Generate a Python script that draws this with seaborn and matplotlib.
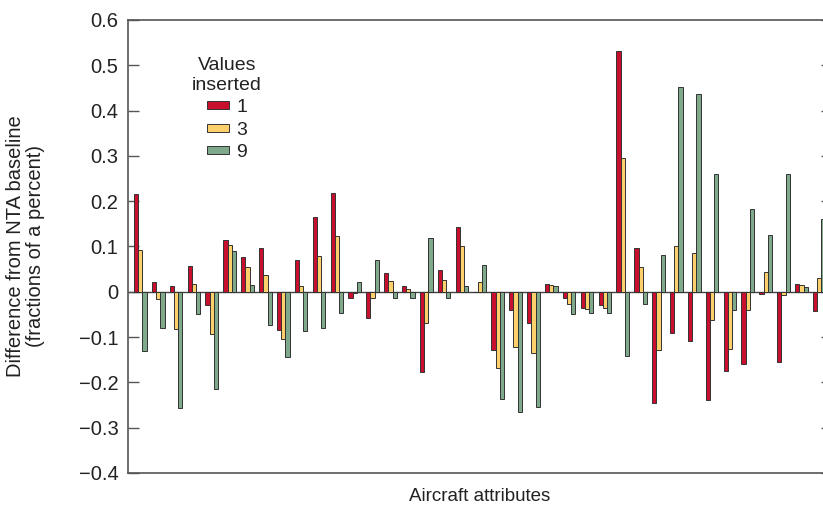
import numpy as np
import pandas as pd
import seaborn as sns
import matplotlib
import matplotlib.pyplot as plt
from matplotlib.ticker import FuncFormatter, MultipleLocator
matplotlib.use('agg')

# values, one entry per aircraft attribute
attributes = ['A%d' % (i + 1) for i in range(39)]
series_names = ['1', '3', '9']
values_1 = [0.215, 0.022, 0.013, 0.057, -0.029, 0.114, 0.076, 0.096, -0.085, 0.069,
            0.164, 0.218, -0.014, -0.059, 0.041, 0.0125, -0.177, 0.047, 0.143, 0.0,
            -0.129, -0.040, -0.069, 0.018, -0.014, -0.035, -0.029, 0.532, 0.096, -0.246,
            -0.091, -0.109, -0.240, -0.174, -0.160, -0.004, -0.154, 0.018, -0.043]
values_3 = [0.093, -0.015, -0.082, 0.018, -0.094, 0.104, 0.055, 0.037, -0.105, 0.0125,
            0.078, 0.122, -0.003, -0.014, 0.024, 0.005, -0.070, 0.027, 0.101, 0.021,
            -0.168, -0.121, -0.135, 0.015, -0.026, -0.038, -0.035, 0.296, 0.055, -0.129,
            0.101, 0.085, -0.062, -0.126, -0.041, 0.043, -0.008, 0.015, 0.030]
values_9 = [-0.130, -0.080, -0.257, -0.050, -0.215, 0.090, 0.016, -0.074, -0.143, -0.086,
            -0.079, -0.046, 0.022, 0.069, -0.014, -0.014, 0.119, -0.014, 0.013, 0.058,
            -0.236, -0.266, -0.254, 0.0125, -0.049, -0.046, -0.046, -0.142, -0.026, 0.082,
            0.453, 0.4375, 0.260, -0.040, 0.182, 0.126, 0.260, 0.010, 0.161]
colors = ['#c8102e', '#fdd06c', '#7fa98b']

df = pd.DataFrame({
    'attribute': attributes * 3,
    'inserted': [s for s in series_names for _ in attributes],
    'diff': values_1 + values_3 + values_9,
})

sns.set_theme(style='white')
plt.rcParams['font.family'] = ['Liberation Sans', 'DejaVu Sans']
text_color = '#222222'

fig = plt.figure(figsize=(8.23, 5.08), dpi=100)
ax = fig.add_axes([0.1555, 0.069, 0.855, 0.8917])

sns.barplot(data=df, x='attribute', y='diff', hue='inserted', order=attributes,
            hue_order=series_names, palette=colors, width=0.71,
            edgecolor='#333333', linewidth=0.7, saturation=1, ax=ax, legend=True)

ax.axhline(0, color='#444444', lw=1.0, zorder=0.5)
ax.set_xlim(-0.69, 38.69)
ax.set_ylim(-0.4, 0.6)
ax.yaxis.set_major_locator(MultipleLocator(0.1))
ax.yaxis.set_major_formatter(FuncFormatter(
    lambda v, _: ('%g' % round(v, 1)).replace('-', '\u2212')))
ax.set_xticks([])
ax.tick_params(axis='y', direction='in', length=8, width=1.0, color='#555555',
               left=True, right=True, labelsize=14.5, labelcolor=text_color, pad=7)
for s in ax.spines.values():
    s.set_color('#555555')
    s.set_linewidth(1.2)

ax.set_xlabel('Aircraft attributes', fontsize=13.5, color=text_color, labelpad=11)
ax.set_ylabel('Difference from NTA baseline\n(fractions of a percent)',
              fontsize=14.5, color=text_color, labelpad=24, linespacing=1.05)

handles, labels = ax.get_legend_handles_labels()
leg = ax.legend(handles, labels, title='Values\ninserted', frameon=False,
                loc='upper left', bbox_to_anchor=(0.08, 0.935), fontsize=14,
                title_fontsize=14, handlelength=1.15, handleheight=0.28,
                handletextpad=0.35, labelspacing=0.28, alignment='center',
                borderaxespad=0)
leg.get_title().set_multialignment('center')
leg.get_title().set_linespacing(1.2)
leg.get_title().set_color(text_color)
for t in leg.get_texts():
    t.set_color(text_color)

fig.savefig('out.png', dpi=100)
plt.close(fig)
